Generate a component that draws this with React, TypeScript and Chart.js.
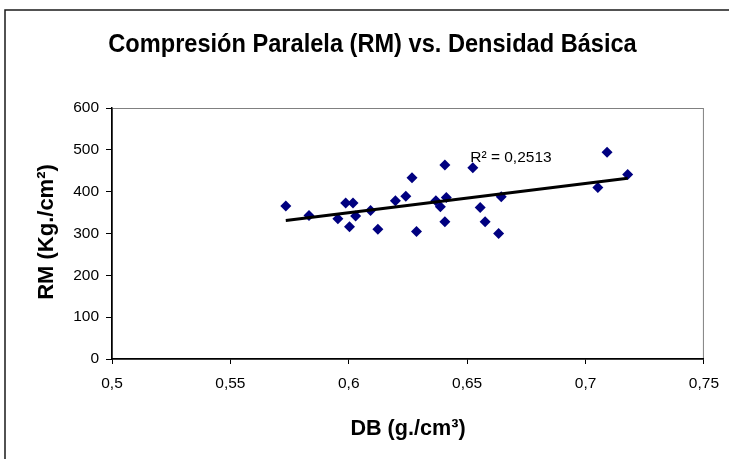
import React, { useEffect, useRef } from 'react';
import { Chart, registerables } from 'chart.js';

Chart.register(...registerables);

// ---- Data ----
const densityDB = [
  0.5734, 0.5832, 0.5954, 0.5987, 0.6018, 0.6003, 0.6029, 0.6092, 0.6123,
  0.6197, 0.6241, 0.6267, 0.6286, 0.6368, 0.6387, 0.6406, 0.6412, 0.6406,
  0.6524, 0.6555, 0.6576, 0.6633, 0.6644, 0.7052, 0.7091, 0.7178,
];
const compressionRM = [
  366, 343, 335, 373, 373, 316, 342, 355, 310,
  378, 389, 433, 305, 378, 364, 464, 386, 328,
  457, 362, 328, 300, 388, 410, 494, 441,
];
const xTickValues = [0.5, 0.55, 0.6, 0.65, 0.7, 0.75];
const yTickValues = [0, 100, 200, 300, 400, 500, 600];
const chartTitle = 'Compresión Paralela (RM) vs. Densidad Básica';
const xAxisTitle = 'DB (g./cm³)';
const yAxisTitle = 'RM (Kg./cm²)';
const r2Text = 'R² = 0,2513';
const r2Anchor = { x: 0.6513, y: 471 };

const FONT = '"Liberation Sans", Arial, sans-serif';

function linearFit(xs: number[], ys: number[]) {
  const n = xs.length;
  const mx = xs.reduce((a, b) => a + b, 0) / n;
  const my = ys.reduce((a, b) => a + b, 0) / n;
  let sxy = 0;
  let sxx = 0;
  for (let i = 0; i < n; i++) {
    sxy += (xs[i] - mx) * (ys[i] - my);
    sxx += (xs[i] - mx) * (xs[i] - mx);
  }
  const slope = sxy / sxx;
  const intercept = my - slope * mx;
  return { slope, intercept };
}

function drawText(
  ctx: CanvasRenderingContext2D,
  text: string,
  x: number,
  y: number,
  font: string,
  sy = 1,
  rotate = 0,
) {
  ctx.save();
  ctx.translate(x, y);
  if (rotate) ctx.rotate(rotate);
  ctx.scale(1, sy);
  ctx.font = font;
  ctx.fillStyle = '#000';
  ctx.textAlign = 'center';
  ctx.textBaseline = 'alphabetic';
  ctx.fillText(text, 0, 0);
  ctx.restore();
}

const decorPlugin = {
  id: 'decor',
  beforeDraw(chart: any) {
    const { ctx, chartArea } = chart;
    ctx.save();
    ctx.fillStyle = '#fff';
    ctx.fillRect(0, 0, chart.width, chart.height);
    // outer chart border (left and top visible)
    ctx.strokeStyle = '#1a1a1a';
    ctx.lineWidth = 1.5;
    ctx.beginPath();
    ctx.moveTo(5, chart.height);
    ctx.lineTo(5, 10);
    ctx.lineTo(chart.width, 10);
    ctx.stroke();
    // plot area border (grey)
    ctx.strokeStyle = '#808080';
    ctx.lineWidth = 1;
    ctx.strokeRect(
      chartArea.left + 0.5,
      chartArea.top + 0.5,
      chartArea.right - chartArea.left - 1,
      chartArea.bottom - chartArea.top,
    );
    ctx.restore();
  },
  afterDraw(chart: any) {
    const { ctx } = chart;
    drawText(ctx, chartTitle, 372.5, 52, `bold 23.6px ${FONT}`, 1.12);
    drawText(ctx, xAxisTitle, 408, 435, `bold 21.6px ${FONT}`, 1.03);
    drawText(ctx, yAxisTitle, 53, 232, `bold 22px ${FONT}`, 1.03, -Math.PI / 2);
    const xs = chart.scales.x;
    const ys = chart.scales.y;
    const px = xs.getPixelForValue(r2Anchor.x);
    const py = ys.getPixelForValue(r2Anchor.y);
    ctx.save();
    ctx.font = `15.5px ${FONT}`;
    ctx.fillStyle = '#000';
    ctx.textAlign = 'left';
    ctx.textBaseline = 'alphabetic';
    ctx.fillText(r2Text, px, py);
    ctx.restore();
  },
};

export default function App() {
  const canvasRef = useRef<HTMLCanvasElement | null>(null);

  useEffect(() => {
    if (!canvasRef.current) return;
    const fit = linearFit(densityDB, compressionRM);
    const xMin = Math.min(...densityDB);
    const xMax = Math.max(...densityDB);
    const trend = [
      { x: xMin, y: fit.intercept + fit.slope * xMin },
      { x: xMax, y: fit.intercept + fit.slope * xMax },
    ];
    const points = densityDB.map((x, i) => ({ x, y: compressionRM[i] }));

    const chart = new Chart(canvasRef.current, {
      type: 'scatter',
      data: {
        datasets: [
          {
            label: 'Lineal',
            data: trend,
            showLine: true,
            borderColor: '#000',
            borderWidth: 3,
            pointRadius: 0,
            pointHoverRadius: 0,
          } as any,
          {
            label: 'RM',
            data: points,
            pointStyle: 'rectRot',
            pointRadius: 5.5,
            pointHoverRadius: 5.5,
            backgroundColor: '#000080',
            borderColor: '#000080',
            borderWidth: 0,
          },
        ],
      },
      options: {
        animation: false,
        responsive: false,
        maintainAspectRatio: false,
        events: [],
        layout: { padding: { left: 0, right: 24, top: 108, bottom: 0 } },
        plugins: {
          legend: { display: false },
          tooltip: { enabled: false },
          title: { display: false },
        },
        scales: {
          x: {
            type: 'linear',
            min: 0.5,
            max: 0.75,
            afterBuildTicks: (scale: any) => {
              scale.ticks = xTickValues.map((v) => ({ value: v }));
            },
            afterFit: (scale: any) => {
              scale.height = 100;
            },
            ticks: {
              color: '#000',
              font: { family: FONT, size: 15.5 },
              padding: 10,
              maxRotation: 0,
              callback: (v: any) => String(Number(Number(v).toFixed(2))).replace('.', ','),
            },
            grid: {
              drawOnChartArea: false,
              drawTicks: true,
              tickLength: 5,
              color: '#000',
              lineWidth: 1,
            },
            border: { display: true, color: '#000', width: 1.5 },
          },
          y: {
            type: 'linear',
            min: 0,
            max: 600,
            afterBuildTicks: (scale: any) => {
              scale.ticks = yTickValues.map((v) => ({ value: v }));
            },
            afterFit: (scale: any) => {
              scale.width = 112;
            },
            ticks: {
              color: '#000',
              font: { family: FONT, size: 15.5 },
              padding: 7,
            },
            grid: {
              drawOnChartArea: false,
              drawTicks: true,
              tickLength: 6,
              color: '#000',
              lineWidth: 1,
            },
            border: { display: true, color: '#000', width: 1.5 },
          },
        },
      },
      plugins: [decorPlugin],
    });
    return () => chart.destroy();
  }, []);

  return (
    <div style={{ position: 'absolute', left: 0, top: 0, width: 729, height: 459 }}>
      <canvas ref={canvasRef} width={729} height={459} style={{ width: 729, height: 459, display: 'block' }} />
    </div>
  );
}
